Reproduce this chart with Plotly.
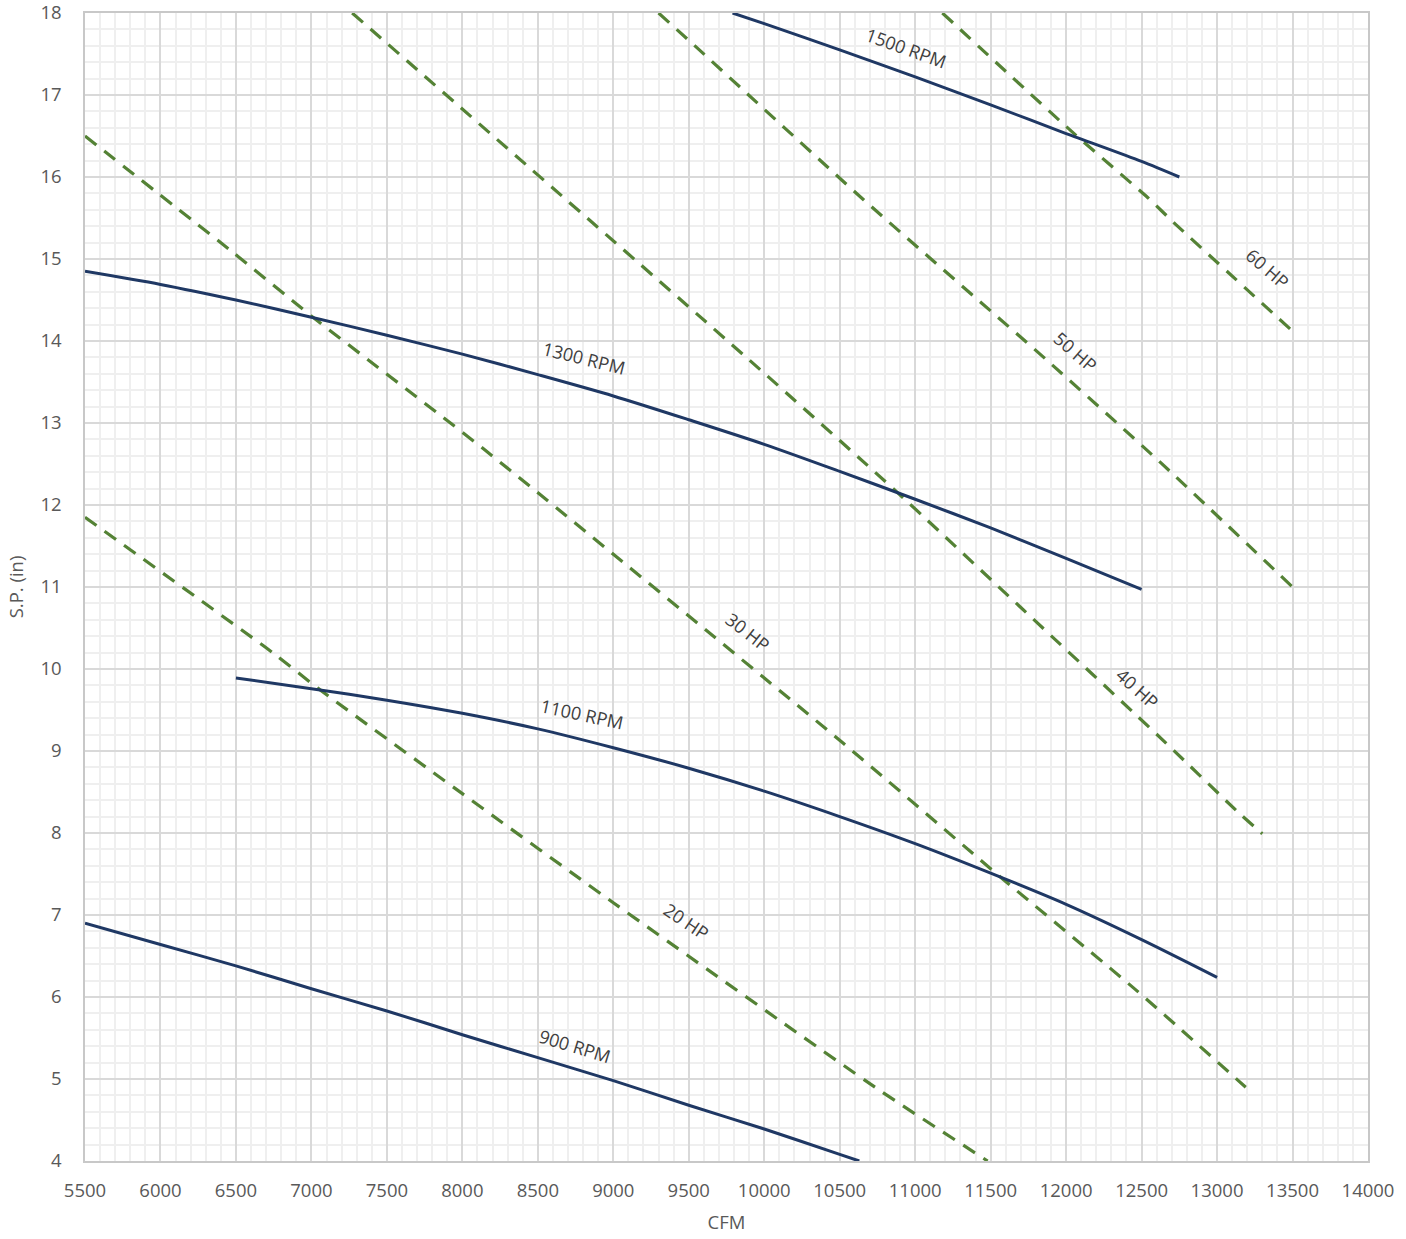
import plotly.graph_objects as go

# ---- fan RPM curves (CFM, S.P.) ----
rpm900_x = [5500, 6000, 6500, 7000, 7500, 8000, 8500, 9000, 9500, 10000, 10500, 10630]
rpm900_y = [6.90, 6.64, 6.38, 6.10, 5.83, 5.54, 5.26, 4.98, 4.68, 4.39, 4.08, 4.00]

rpm1100_x = [6500, 7000, 7500, 8000, 8500, 9000, 9500, 10000, 10500, 11000, 11500, 12000, 12500, 13000]
rpm1100_y = [9.89, 9.76, 9.62, 9.46, 9.27, 9.04, 8.79, 8.51, 8.20, 7.87, 7.51, 7.13, 6.70, 6.24]

rpm1300_x = [5500, 6000, 6500, 7000, 7500, 8000, 8500, 9000, 9500, 10000, 10500, 11000, 11500, 12000, 12500]
rpm1300_y = [14.85, 14.69, 14.50, 14.29, 14.07, 13.84, 13.59, 13.33, 13.04, 12.74, 12.41, 12.07, 11.72, 11.35, 10.97]

rpm1500_x = [9790, 10000, 10500, 11000, 11500, 12000, 12500, 12750]
rpm1500_y = [18.00, 17.87, 17.55, 17.22, 16.88, 16.53, 16.19, 16.00]

# ---- horsepower lines ----
hp20_x = [5500, 6750, 7040, 8000, 9000, 10750, 11480]
hp20_y = [11.85, 10.19, 9.77, 8.48, 7.15, 4.88, 4.00]

hp30_x = [5500, 6460, 7010, 8150, 10520, 11580, 12460, 13190]
hp30_y = [16.50, 15.11, 14.29, 12.67, 9.10, 7.44, 6.09, 4.90]

hp40_x = [7270, 9900, 10860, 11700, 12660, 13130, 13300]
hp40_y = [18.00, 13.77, 12.19, 10.75, 9.10, 8.27, 7.99]

hp50_x = [9300, 9570, 10660, 11870, 12630, 13500]
hp50_y = [18.00, 17.55, 15.72, 13.77, 12.51, 11.00]

hp60_x = [11180, 12040, 12540, 12710, 13500]
hp60_y = [18.00, 16.55, 15.75, 15.45, 14.12]

# ---- curve labels ----
label_text = ["1500 RPM", "1300 RPM", "1100 RPM", "900 RPM", "60 HP", "50 HP", "40 HP", "30 HP", "20 HP"]
label_x = [10940, 8806, 8793, 8746, 13331, 12065, 12470, 9892, 9482]
label_y = [17.57, 13.79, 9.45, 5.40, 14.89, 13.87, 9.77, 10.45, 6.93]
label_angle = [20, 14, 12, 17, 41, 41, 42, 38, 34]

x_ticks = list(range(5500, 14001, 500))
y_ticks = list(range(4, 19))

NAVY = "#1f3864"
GREEN = "#548235"

fig = go.Figure()

for xs, ys in [(hp20_x, hp20_y), (hp30_x, hp30_y), (hp40_x, hp40_y), (hp50_x, hp50_y), (hp60_x, hp60_y)]:
    fig.add_trace(go.Scatter(x=xs, y=ys, mode="lines", showlegend=False, hoverinfo="skip",
                             line=dict(color=GREEN, width=3.2, dash="14px,10px", shape="spline", smoothing=0.6)))

for xs, ys in [(rpm900_x, rpm900_y), (rpm1100_x, rpm1100_y), (rpm1300_x, rpm1300_y), (rpm1500_x, rpm1500_y)]:
    fig.add_trace(go.Scatter(x=xs, y=ys, mode="lines", showlegend=False, hoverinfo="skip",
                             line=dict(color=NAVY, width=3, shape="spline", smoothing=0.8)))

for t, x, y, a in zip(label_text, label_x, label_y, label_angle):
    fig.add_annotation(x=x, y=y, xref="x", yref="y", text=t, showarrow=False,
                       textangle=a, font=dict(family="Open Sans", size=18, color="#404040"))

axis_font = dict(family="Open Sans", size=18.5, color="#595959")

fig.update_xaxes(
    range=[5500, 14000], tickvals=x_ticks, ticktext=[str(v) for v in x_ticks],
    showgrid=True, gridcolor="#d9d9d9", gridwidth=1.5,
    minor=dict(dtick=100, showgrid=True, gridcolor="#efefef", gridwidth=1.5),
    showline=True, linecolor="#c8c8c8", linewidth=1.5, mirror=True,
    zeroline=False, ticks="", ticklabelstandoff=12, ticklabeloverflow="allow",
    tickfont=axis_font,
    title=dict(text="CFM", font=axis_font, standoff=15),
)
fig.update_yaxes(
    range=[4, 18], tickvals=y_ticks, ticktext=[str(v) for v in y_ticks],
    showgrid=True, gridcolor="#d9d9d9", gridwidth=1.5,
    minor=dict(dtick=0.2, showgrid=True, gridcolor="#efefef", gridwidth=1.5),
    showline=True, linecolor="#c8c8c8", linewidth=1.5, mirror=True,
    zeroline=False, ticks="", ticklabelstandoff=18, ticklabeloverflow="allow",
    tickfont=axis_font,
    title=dict(text="S.P. (in)", font=axis_font, standoff=12),
)

fig.update_layout(
    width=1406, height=1239,
    margin=dict(l=85, r=38, t=13, b=78, autoexpand=False),
    paper_bgcolor="white", plot_bgcolor="white",
    font=dict(family="Open Sans", color="#595959"),
)

fig.write_html("out.html", config={"displayModeBar": False},
               post_script="document.body.style.margin='0';document.body.style.overflow='hidden';")
